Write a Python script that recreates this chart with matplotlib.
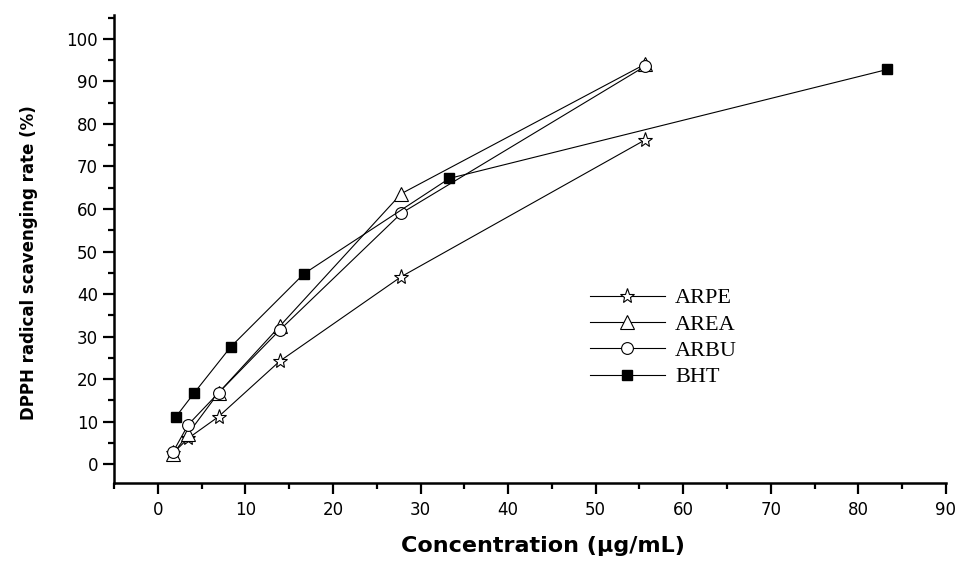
import matplotlib
matplotlib.use("Agg")
import matplotlib.pyplot as plt
from matplotlib.ticker import MultipleLocator

# concentrations (ug/mL)
conc_ar = [1.74, 3.47, 6.94, 13.9, 27.8, 55.6]
conc_bht = [2.08, 4.17, 8.33, 16.7, 33.3, 83.3]

# scavenging rate (%)
arpe = [2.6, 6.1, 11.2, 24.2, 44.1, 76.2]
area = [2.4, 7.2, 16.8, 32.4, 63.6, 94.0]
arbu = [2.9, 9.3, 16.8, 31.5, 59.0, 93.5]
bht = [11.2, 16.8, 27.6, 44.8, 67.2, 92.8]

fig = plt.figure(figsize=(9.61, 5.61), dpi=100)
ax = fig.add_axes([114/961, 1 - 483/561, (946 - 114)/961, (483 - 15)/561])

lw = 0.8
ax.plot(conc_ar, arpe, color='black', lw=lw, marker='*', ms=11, mfc='white', mec='black', mew=0.8, label='ARPE')
ax.plot(conc_ar, area, color='black', lw=lw, marker='^', ms=10, mfc='white', mec='black', mew=0.8, label='AREA')
ax.plot(conc_ar, arbu, color='black', lw=lw, marker='o', ms=8.5, mfc='white', mec='black', mew=0.8, label='ARBU')
ax.plot(conc_bht, bht, color='black', lw=lw, marker='s', ms=7.5, mfc='black', mec='black', label='BHT')

ax.set_xlim(-5, 90)
ax.set_ylim(-4.4, 105.6)
ax.xaxis.set_major_locator(MultipleLocator(10))
ax.xaxis.set_minor_locator(MultipleLocator(5))
ax.yaxis.set_major_locator(MultipleLocator(10))
ax.yaxis.set_minor_locator(MultipleLocator(5))
ax.set_yticks(range(0, 101, 10))

for s in ['top', 'right']:
    ax.spines[s].set_visible(False)
for s in ['left', 'bottom']:
    ax.spines[s].set_linewidth(1.8)

ax.tick_params(which='major', direction='out', length=8, width=1.6, labelsize=12)
ax.tick_params(axis='x', which='major', pad=5)
ax.tick_params(axis='y', which='major', pad=3.5)
ax.tick_params(which='minor', direction='out', length=4, width=1.6)
for lab in ax.get_xticklabels() + ax.get_yticklabels():
    lab.set_fontfamily('DejaVu Sans')

ax.set_xlabel('Concentration (μg/mL)', fontsize=16, fontweight='bold', family='DejaVu Sans')
ax.set_ylabel('DPPH radical scavenging rate (%)', fontsize=12, fontweight='bold', family='DejaVu Sans')
ax.xaxis.set_label_coords(0.516, -0.113)
ax.yaxis.set_label_coords(-0.0915, 0.471)

leg = ax.legend(loc='upper left', bbox_to_anchor=(0.5716, 0.417), frameon=False,
                prop={'family': 'Liberation Serif', 'size': 16}, handlelength=3.4,
                labelspacing=0.26, handletextpad=0.45, borderpad=0, borderaxespad=0)

fig.savefig('out.png', dpi=100)
